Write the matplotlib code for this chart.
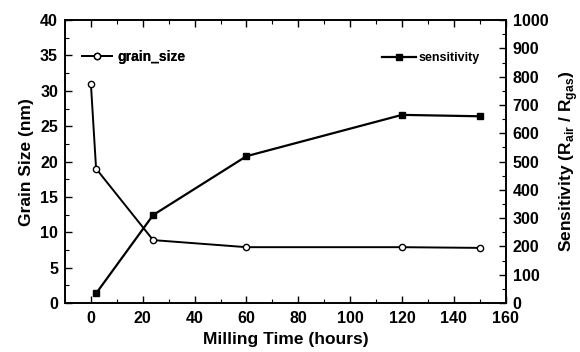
import matplotlib
matplotlib.use("Agg")
import matplotlib.pyplot as plt
from matplotlib.ticker import MultipleLocator

plt.rcParams['font.family'] = ['Liberation Sans', 'DejaVu Sans']
plt.rcParams['font.weight'] = 'bold'
plt.rcParams['mathtext.fontset'] = 'custom'
plt.rcParams['mathtext.rm'] = 'Liberation Sans:bold'
plt.rcParams['mathtext.bf'] = 'Liberation Sans:bold'

grain_time = [0, 2, 24, 60, 120, 150]
grain_size = [31.0, 19.0, 8.9, 7.9, 7.9, 7.8]
sens_time = [2, 24, 60, 120, 150]
sensitivity = [34, 311, 519, 665, 660]

fig = plt.figure(figsize=(5.8, 3.52), dpi=100)
ax = fig.add_axes([0.112, 0.139, 0.760, 0.804])
ax2 = ax.twinx()

l1, = ax.plot(grain_time, grain_size, color='black', lw=1.4, marker='o', ms=4.5,
              mfc='white', mec='black', mew=1.0, label='grain_size')
l2, = ax2.plot(sens_time, sensitivity, color='black', lw=1.6, marker='s', ms=4.5,
               mfc='black', mec='black', label='sensitivity')

ax.set_xlim(-10, 160)
ax.set_ylim(0, 40)
ax2.set_ylim(0, 1000)

ax.xaxis.set_major_locator(MultipleLocator(20))
ax.xaxis.set_minor_locator(MultipleLocator(10))
ax.yaxis.set_major_locator(MultipleLocator(5))
ax.yaxis.set_minor_locator(MultipleLocator(2.5))
ax2.yaxis.set_major_locator(MultipleLocator(100))
ax2.yaxis.set_minor_locator(MultipleLocator(50))

ax.tick_params(axis='both', which='both', direction='in', top=True, labelsize=11.5)
ax.tick_params(axis='x', which='both', top=True, bottom=True, pad=6)
ax.tick_params(which='major', length=5, width=1)
ax.tick_params(which='minor', length=3, width=0.8)
ax.tick_params(axis='y', right=False, pad=5)
ax2.tick_params(axis='y', which='both', direction='in', labelsize=11.5, pad=5)
ax2.tick_params(which='major', length=5, width=1)
ax2.tick_params(which='minor', length=3, width=0.8)
for a in (ax, ax2):
    for s in a.spines.values():
        s.set_linewidth(1.2)
    for lab in a.get_xticklabels() + a.get_yticklabels():
        lab.set_fontweight('bold')

ax.set_xlabel('Milling Time (hours)', fontsize=12.5, fontweight='bold', labelpad=4)
ax.set_ylabel('Grain Size (nm)', fontsize=12.5, fontweight='bold', labelpad=4)
ax2.set_ylabel(r'Sensitivity (R$_{\mathbf{air}}$ / R$_{\mathbf{gas}}$)', fontsize=12.5,
               fontweight='bold', labelpad=6)

leg1 = ax.legend(handles=[l1], loc='center left', bbox_to_anchor=(0.038, 0.869),
                 frameon=False, borderpad=0, borderaxespad=0, handlelength=2.2,
                 handletextpad=0.4, prop={'size': 10, 'weight': 'bold'})
ax.add_artist(leg1)
leg2 = ax2.legend(handles=[l2], loc='center left', bbox_to_anchor=(0.72, 0.866),
                  frameon=False, borderpad=0, borderaxespad=0, handlelength=2.7,
                  handletextpad=0.2, prop={'size': 9, 'weight': 'bold'})

fig.savefig('out.png', dpi=100)
